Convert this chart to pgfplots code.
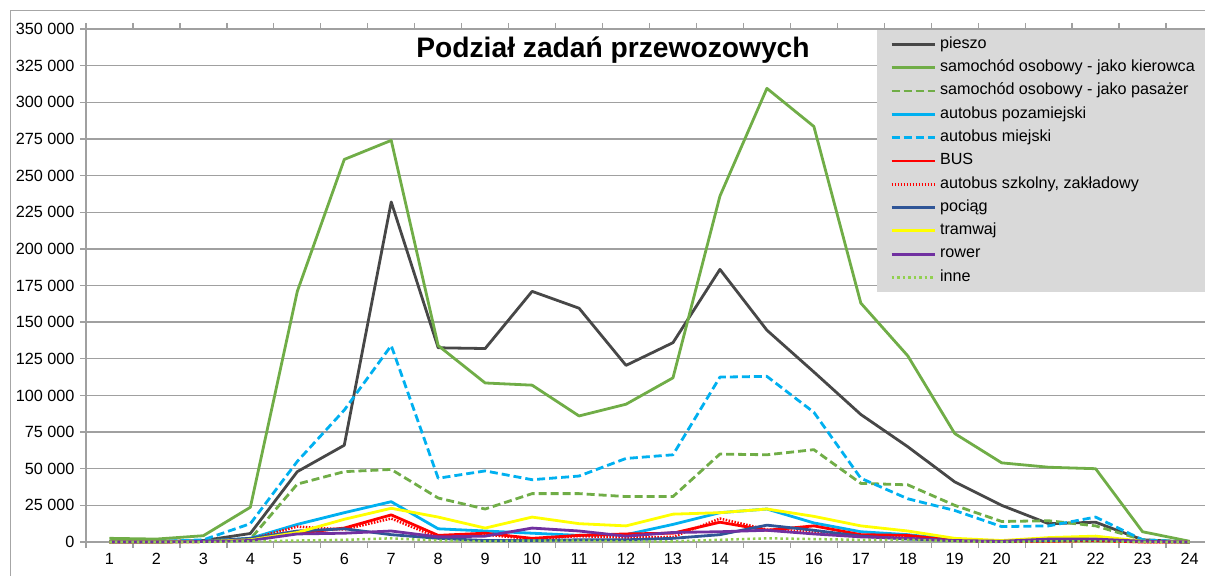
\documentclass[border=0pt]{standalone}
\usepackage{fontspec}
\setmainfont{Liberation Sans}
\usepackage{pgfplots}
\usepackage{pgfplotstable}
\pgfplotsset{compat=1.18}
\definecolor{cPie}{HTML}{474747}
\definecolor{cGreen}{HTML}{70AD47}
\definecolor{cBlue}{HTML}{00B0F0}
\definecolor{cRed}{HTML}{FF0000}
\definecolor{cNavy}{HTML}{2F5597}
\definecolor{cYellow}{HTML}{FFFF00}
\definecolor{cPurple}{HTML}{7030A0}
\definecolor{cLight}{HTML}{92D050}
\definecolor{gridgray}{HTML}{A0A0A0}
\definecolor{framegray}{HTML}{A6A6A6}
\definecolor{legendgray}{HTML}{D9D9D9}
\pgfplotstableread{
h pie kie pas poz mie bus szk poc tra row inn
1 500 2500 300 200 300 0 0 0 0 0 0
2 500 2000 300 200 300 0 0 0 0 0 0
3 1000 4300 800 500 1500 300 300 500 300 300 0
4 5800 23700 2000 2500 12500 1500 2000 2500 1500 1000 500
5 48000 171000 39500 12000 55000 6000 10500 7500 6500 5500 1000
6 66000 261000 48000 20000 90000 9500 8500 9000 15500 6000 1500
7 232000 274000 49500 27500 134000 18500 16000 5000 23000 7500 2500
8 132500 134000 30000 9000 43500 4500 3000 2500 17000 3500 1000
9 132000 108500 22500 7500 48500 6000 5000 1000 9500 4000 500
10 171000 107000 33000 6000 42500 2500 2000 1000 17000 9500 1000
11 159500 86000 33000 4500 45000 4500 4000 1500 12500 7500 1000
12 120500 94000 31000 5000 57000 5500 3000 1500 11000 4000 500
13 136000 112000 31000 12000 59500 6000 3500 2500 19000 6500 500
14 186000 236000 60000 20000 112500 13500 16000 5000 20000 7000 1500
15 144500 309500 59500 22500 113000 8000 8500 11500 22500 8000 2500
16 116000 283500 63000 13000 88500 11000 7000 8000 17500 5500 2000
17 87000 163000 40000 7000 43500 5000 4000 4000 11000 3500 1500
18 65000 127000 39000 5000 29500 4500 3000 2000 7500 2500 1500
19 41000 74000 25000 1500 21500 1000 1000 1000 2500 1000 500
20 25000 54000 14000 500 10500 500 300 500 1000 500 0
21 12500 51000 14500 1000 11000 500 500 1000 3000 2000 500
22 13500 50000 11000 1500 17000 1000 800 1500 4000 2000 500
23 1500 7000 1500 500 1500 0 0 500 500 500 0
24 0 500 0 0 0 0 0 0 0 0 0
}\data
\begin{document}
\begin{tikzpicture}
\useasboundingbox (0,0) rectangle (1205bp,576bp);
\clip (0,0) rectangle (1205bp,576bp);
\draw[framegray, line width=1bp] (10bp,-10bp) -- (10bp,565bp) -- (1230bp,565bp);
\begin{axis}[
  at={(86bp,34bp)}, anchor=south west,
  scale only axis, width=1127bp, height=513bp,
  xmin=0.5, xmax=24.5, ymin=0, ymax=350000,
  clip=false,
  scaled y ticks=false,
  ytick={0,25000,...,350000},
  yticklabels={0,25 000,50 000,75 000,100 000,125 000,150 000,175 000,200 000,225 000,250 000,275 000,300 000,325 000,350 000},
  xtick={1,...,24},
  minor xtick={0.5,1.5,...,24.5},
  tick align=outside,
  major tick length=6bp, minor tick length=6bp,
  every major x tick/.append style={draw=none},
  every tick/.append style={draw=gridgray, line width=1.3bp},
  every minor tick/.append style={draw=gridgray, line width=1.3bp},
  ymajorgrids, major grid style={draw=gridgray, line width=1.3bp},
  axis line style={draw=gridgray, line width=1.3bp},
  /pgf/number format/assume math mode=true,
  ticklabel style={font=\fontsize{16.3}{19}\selectfont},
  yticklabel style={xshift=-2bp},
  xticklabel style={yshift=-2bp},
  every axis title shift=0pt,
  title={Podział zadań przewozowych},
  title style={at={(0.4676,0.9454)}, anchor=base, font=\fontsize{28.3}{33}\selectfont\bfseries},
  legend style={at={(0.7019,0.998)}, anchor=north west, draw=none, fill=legendgray,
    inner xsep=13bp, inner ysep=6bp, row sep=6.8bp,
    font=\fontsize{16.2}{19}\selectfont,
    nodes={inner sep=1bp, text height=11bp, text depth=3.5bp},
    /tikz/every odd column/.style={column sep=3bp}},
  legend cell align=left,
  legend image code/.code={\draw[#1] (0bp,0bp) -- (43bp,0bp);},
  every axis plot/.append style={line width=2.8bp, line join=round},
]
\addplot[cPie] table[x=h,y=pie]{\data};
\addlegendentry{\makebox[290bp][l]{pieszo}}
\addplot[cGreen] table[x=h,y=kie]{\data};
\addlegendentry{samochód osobowy - jako kierowca}
\addplot[cGreen, dash pattern=on 8bp off 4bp] table[x=h,y=pas]{\data};
\addlegendentry{samochód osobowy - jako pasażer}
\addplot[cBlue] table[x=h,y=poz]{\data};
\addlegendentry{autobus pozamiejski}
\addplot[cBlue, dash pattern=on 8bp off 4bp] table[x=h,y=mie]{\data};
\addlegendentry{autobus miejski}
\addplot[cRed] table[x=h,y=bus]{\data};
\addlegendentry{BUS}
\addplot[cRed, line width=2.5bp, dash pattern=on 1.5bp off 1.5bp] table[x=h,y=szk]{\data};
\addlegendentry{autobus szkolny, zakładowy}
\addplot[cNavy] table[x=h,y=poc]{\data};
\addlegendentry{pociąg}
\addplot[cYellow] table[x=h,y=tra]{\data};
\addlegendentry{tramwaj}
\addplot[cPurple] table[x=h,y=row]{\data};
\addlegendentry{rower}
\addplot[cLight, line width=2.5bp, dash pattern=on 2.5bp off 3bp] table[x=h,y=inn]{\data};
\addlegendentry{inne}
\end{axis}
\end{tikzpicture}
\end{document}
